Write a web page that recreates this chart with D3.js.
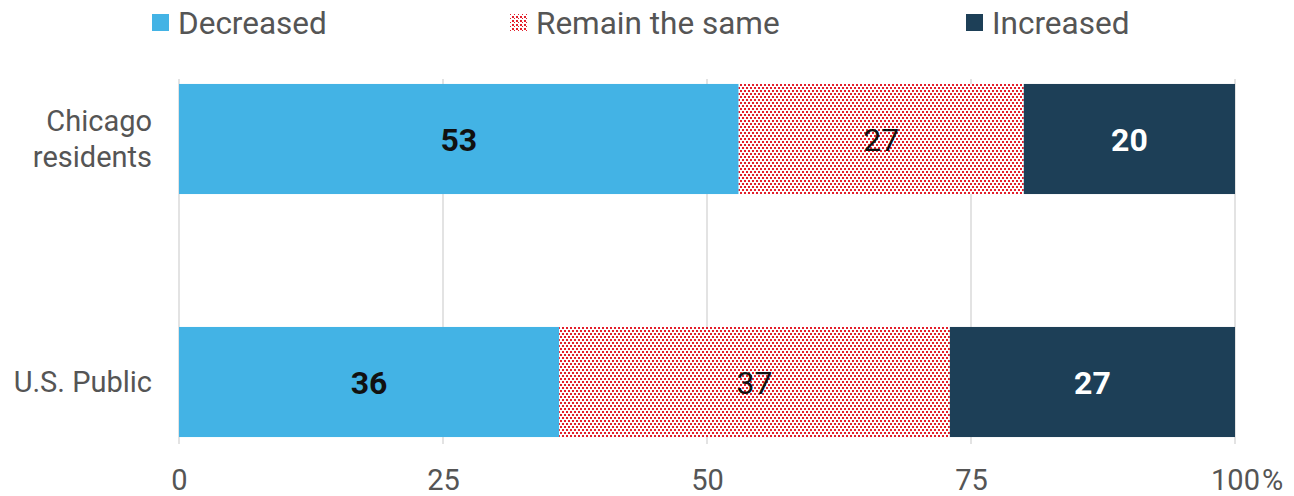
<!DOCTYPE html>
<html>
<head>
<meta charset="utf-8">
<script src="https://cdn.jsdelivr.net/npm/d3@7"></script>
<style>
  body { margin: 0; background: #fff; }
  text { font-family: Roboto, "Noto Sans", sans-serif; }
</style>
</head>
<body>
<div id="main"></div>
<script>
// categories and series (percent)
const groups = ['Chicago residents', 'U.S. Public'];
const seriesNames = ['Decreased', 'Remain the same', 'Increased'];
const decreased = [53, 36];
const remainSame = [27, 37];
const increased = [20, 27];
const xTicks = [0, 25, 50, 75, 100];

const width = 1294, height = 496;
const left = 179, right = 1235;

const colors = { 'Decreased': '#43b3e5', 'Remain the same': 'url(#dots)', 'Increased': '#1d3f57' };

let svg = d3.select('#main')
  .append('svg')
    .attr('width', width)
    .attr('height', height);

// dotted red pattern for "Remain the same"
const defs = svg.append('defs');
const pat = defs.append('pattern')
  .attr('id', 'dots')
  .attr('patternUnits', 'userSpaceOnUse')
  .attr('width', 4).attr('height', 6);
pat.append('rect').attr('width', 4).attr('height', 6).attr('fill', '#fff');
pat.append('rect').attr('x', 0).attr('y', 0).attr('width', 2).attr('height', 2).attr('fill', '#e3202c');
pat.append('rect').attr('x', 2).attr('y', 3).attr('width', 2).attr('height', 2).attr('fill', '#e3202c');

// diagonal pattern for the legend swatch
const lp = defs.append('pattern')
  .attr('id', 'legdots')
  .attr('patternUnits', 'userSpaceOnUse')
  .attr('width', 4).attr('height', 4)
  .attr('patternTransform', 'translate(510,14)');
lp.append('rect').attr('width', 4).attr('height', 4).attr('fill', '#fff');
lp.append('rect').attr('x', 0).attr('y', 0).attr('width', 2).attr('height', 2).attr('fill', '#e3202c');
lp.append('rect').attr('x', 2).attr('y', 2).attr('width', 1).attr('height', 1).attr('fill', '#e3202c');

const x = d3.scaleLinear().domain([0, 100]).range([left, right]);
const y = d3.scaleBand().domain(groups).range([17.5, 503.5]).paddingInner(0.547).paddingOuter(0.2735);

// gridlines
svg.append('g')
  .selectAll('line')
  .data(xTicks)
  .enter()
  .append('line')
    .attr('x1', d => x(d)).attr('x2', d => x(d))
    .attr('y1', 79).attr('y2', 444)
    .attr('stroke', '#e3e3e3')
    .attr('stroke-width', 2);

// stacked data
const rows = groups.map((g, i) => ({ group: g, 'Decreased': decreased[i], 'Remain the same': remainSame[i], 'Increased': increased[i] }));
const stacked = d3.stack().keys(seriesNames)(rows);

const layer = svg.append('g')
  .selectAll('g')
  .data(stacked)
  .enter()
  .append('g')
    .attr('fill', d => colors[d.key]);

layer.selectAll('rect')
  .data(d => d)
  .enter()
  .append('rect')
    .attr('x', d => x(d[0]))
    .attr('y', d => y(d.data.group))
    .attr('width', d => x(d[1]) - x(d[0]))
    .attr('height', y.bandwidth());

// value labels
stacked.forEach(s => {
  svg.append('g')
    .selectAll('text')
    .data(s)
    .enter()
    .append('text')
      .attr('x', d => (x(d[0]) + x(d[1])) / 2)
      .attr('y', d => y(d.data.group) + y.bandwidth() / 2)
      .attr('dy', '0.36em')
      .attr('text-anchor', 'middle')
      .style('font-size', '32px')
      .style('font-weight', s.key === 'Remain the same' ? 'normal' : 'bold')
      .style('fill', s.key === 'Increased' ? '#fff' : '#111')
      .text(d => d[1] - d[0]);
});

// x axis
const xAxis = svg.append('g')
  .attr('transform', `translate(0,${462})`)
  .call(d3.axisBottom(x).tickValues(xTicks).tickSize(0).tickPadding(0));
xAxis.select('.domain').remove();
xAxis.selectAll('text')
  .attr('dy', '0.36em')
  .attr('y', 18)
  .style('font-size', '29px')
  .style('font-family', 'Roboto, sans-serif')
  .style('fill', '#555');
// percent sign hangs after the last tick
const lastTick = xAxis.selectAll('.tick').filter(d => d === 100);
const lastText = lastTick.select('text');
const w = lastText.node().getComputedTextLength();
lastTick.append('text')
  .attr('x', w / 2 + 2)
  .attr('y', 18)
  .attr('dy', '0.36em')
  .attr('text-anchor', 'start')
  .style('font-size', '29px')
  .style('fill', '#555')
  .text('%');

// category labels
const catLines = { 'Chicago residents': ['Chicago', 'residents'], 'U.S. Public': ['U.S. Public'] };
groups.forEach(g => {
  const lines = catLines[g];
  const cy = y(g) + y.bandwidth() / 2;
  const t = svg.append('text')
    .attr('text-anchor', 'end')
    .style('font-size', '29px')
    .style('fill', '#555');
  lines.forEach((ln, i) => {
    t.append('tspan')
      .attr('x', 152)
      .attr('y', cy + (i - (lines.length - 1) / 2) * 36)
      .attr('dy', '0.36em')
      .text(ln);
  });
});

// legend
const legendX = [152, 510, 966];
const legend = svg.append('g')
  .selectAll('g')
  .data(seriesNames)
  .enter()
  .append('g')
    .attr('transform', (d, i) => `translate(${legendX[i]},14)`);
legend.append('rect')
  .attr('width', 17).attr('height', 17)
  .attr('fill', d => d === 'Remain the same' ? 'url(#legdots)' : colors[d]);
legend.append('text')
  .attr('x', 26)
  .attr('y', 9)
  .attr('dy', '0.36em')
  .style('font-size', '31.5px')
  .style('fill', '#555')
  .text(d => d);
</script>
</body>
</html>
